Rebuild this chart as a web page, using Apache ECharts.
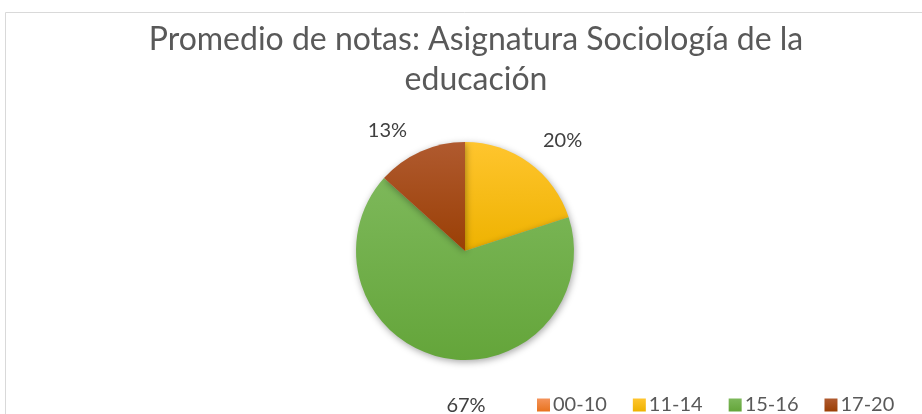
<!DOCTYPE html>
<html><head><meta charset="utf-8">
<script src="https://cdn.jsdelivr.net/npm/echarts@6/dist/echarts.min.js"></script>
<style>html,body{margin:0;padding:0;background:#fff}#c{width:922px;height:414px}</style>
</head><body><div id="c"></div>
<script>
const titleText = 'Promedio de notas: Asignatura Sociología de la\neducación';
const categories = ['00-10', '11-14', '15-16', '17-20'];
const values = [0, 3, 10, 2];
const colorsTop = ['#F4935A', '#FFC52E', '#7DB85A', '#B05A2F'];
const colorsBottom = ['#E8731F', '#EEB200', '#64A53A', '#9A3F05'];
const labelShift = [[0, 0], [10, 10], [32, 9], [-17, 16]];

const chart = echarts.init(document.getElementById('c'), null, {renderer: 'canvas'});
const grad = i => new echarts.graphic.LinearGradient(0, 0, 0, 1, [
  {offset: 0, color: colorsTop[i]},
  {offset: 1, color: colorsBottom[i]}
]);
const data = categories.map((c, i) => ({name: c, value: values[i], itemStyle: {color: grad(i)}}));

chart.setOption({
  animation: false,
  backgroundColor: '#fff',
  graphic: [{
    type: 'rect', silent: true,
    shape: {x: 5.5, y: 12.5, width: 1000, height: 600},
    style: {fill: 'none', stroke: '#D9D9D9', lineWidth: 1}
  }],
  title: {
    text: titleText,
    left: 476, top: 20,
    textAlign: 'center',
    padding: 0,
    textStyle: {fontFamily: 'Lato', fontSize: 32, fontWeight: 'normal', color: '#595959', lineHeight: 40}
  },
  legend: {
    data: categories.map((c, i) => ({name: c, itemStyle: {color: grad(i)}})),
    left: 532, top: 390,
    icon: 'rect', itemWidth: 13, itemHeight: 13, itemGap: 26,
    textStyle: {fontFamily: 'Lato', fontSize: 20, color: '#595959', padding: [0, 0, 0, -2]}
  },
  series: [{
    type: 'pie',
    center: [465, 251],
    radius: 109,
    startAngle: 90,
    clockwise: true,
    avoidLabelOverlap: false,
    data: data,
    itemStyle: {shadowBlur: 7, shadowColor: 'rgba(0,0,0,0.35)', shadowOffsetX: 1, shadowOffsetY: 2},
    label: {
      show: true, position: 'outside', distanceToLabelLine: 0,
      fontFamily: 'Lato', fontSize: 20, color: '#404040',
      formatter: p => p.value ? Math.round(p.percent) + '%' : ''
    },
    labelLine: {show: false, length: 40, length2: 0},
    labelLayout: p => ({align: 'center', verticalAlign: 'middle', dx: labelShift[p.dataIndex][0], dy: labelShift[p.dataIndex][1]})
  }]
});
</script></body></html>
